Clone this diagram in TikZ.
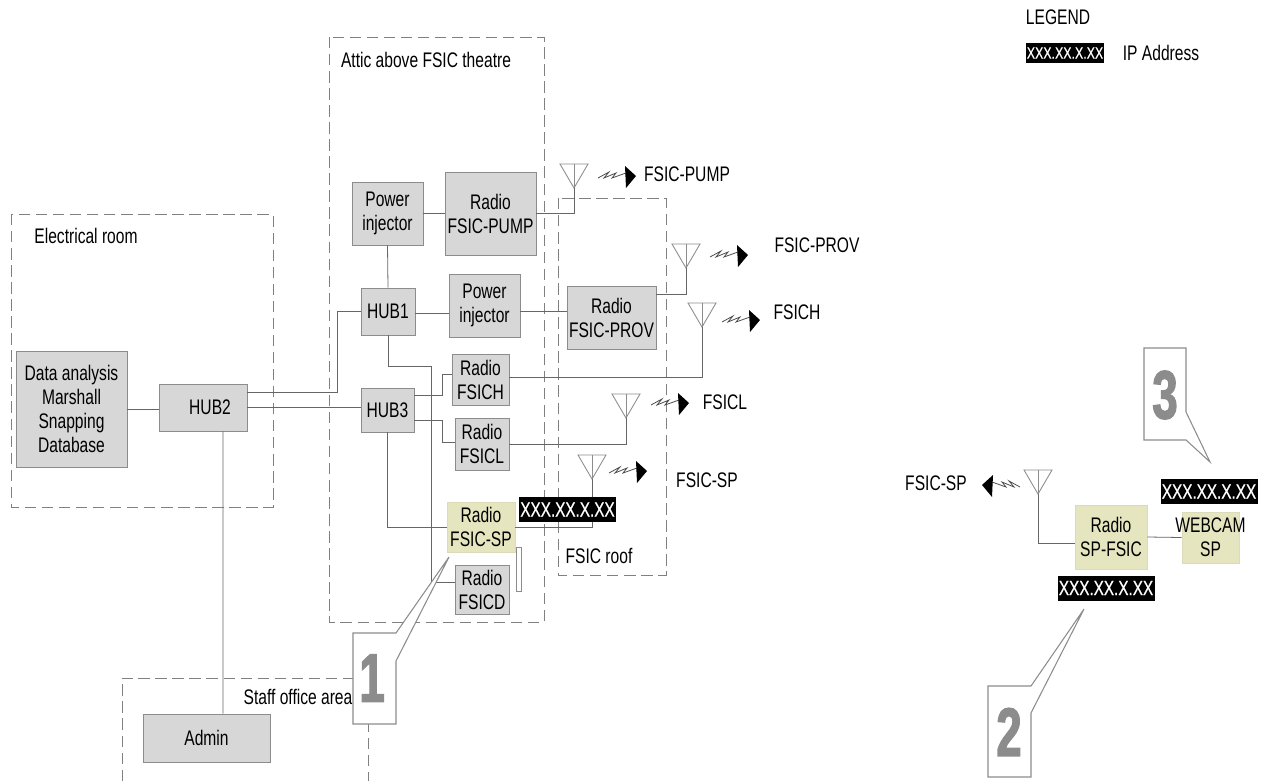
\documentclass[tikz,border=0pt]{standalone}
\usepackage{fontspec}
\setmainfont[FakeStretch=.74]{Liberation Sans}
\newfontfamily\ipfont[FakeStretch=.75,FakeBold=.5]{Liberation Sans}
\newfontfamily\numfont[FakeStretch=.66,BoldFeatures={FakeStretch=.66,FakeBold=2}]{Liberation Sans}
\definecolor{boxgray}{RGB}{215,215,215}
\definecolor{boxkhaki}{RGB}{229,229,192}
\definecolor{edgegray}{RGB}{140,140,140}
\tikzset{
	every node/.style={inner sep=0pt,align=center,font=\fontsize{12}{13.7}\selectfont},
	gbox/.style 2 args={draw=edgegray,fill=boxgray,line width=.55pt,minimum width=#1*.02cm,minimum height=#2*.02cm},
	ybox/.style 2 args={fill=boxkhaki,draw=boxkhaki!90!gray,line width=.5pt,minimum width=#1*.02cm,minimum height=#2*.02cm},
	iplabel/.style={fill=black,text=white,minimum width=97*.02cm,minimum height=25*.02cm,font=\ipfont\fontsize{11.6}{12}\selectfont},
	room/.style={gray,line width=.5pt,dash pattern=on 6.5pt off 3.2pt},
	wire/.style={black!60,line width=.45pt},
	callout/.style={draw=edgegray,fill=white,line width=.6pt},
	calloutnum/.style={text=black!45,font=\numfont\bfseries\fontsize{39}{39}\selectfont},
}
\begin{document}
\begin{tikzpicture}[x=.02cm,y=-.02cm]
	\useasboundingbox (0,0) rectangle (1264,781);

	\draw[room] (329,37) rectangle (544,622);%attic
	\draw[room] (558,198) rectangle (666,575);%roof
	\draw[room] (11,214) rectangle (273,507);%electrical room
	\draw[room] (122,781)--(122,678)--(368,678)--(368,781);%staff office

	\node (atticlabel) at (426,60) {Attic above FSIC theatre};
	\node (rooflabel) at (599,556) {FSIC roof};
	\node (elecalabel) at (86,236) {Electrical room};
	\node (stafflabel) at (298,697) {Staff office area};

	\node[gbox={111}{116}] (data) at (71.5,409) {Data analysis\\Marshall\\Snapping\\Database};
	\node[gbox={88}{47}] (hubtwo) at (203,407.5) {\hspace*{8pt}HUB2};
	\node[gbox={127}{48}] (admin) at (206.5,738) {Admin};
	\node[gbox={71}{63}] (pinja) at (387.5,213.5) {Power\\injector};
	\node[gbox={91}{83}] (radiopump) at (490.5,213.5) {Radio\\FSIC-PUMP};
	\node[gbox={54}{47}] (hubone) at (388,311.5) {HUB1};
	\node[gbox={71}{63}] (pinjb) at (484.5,305.5) {Power\\injector};
	\node[gbox={89}{63}] (radioprov) at (611.5,317.5) {Radio\\FSIC-PROV};
	\node[gbox={57}{51}] (radioh) at (480.5,379.5) {Radio\\FSICH};
	\node[gbox={53}{44}] (hubthree) at (387.5,410) {HUB3};
	\node[gbox={54}{52}] (radiol) at (482,444) {Radio\\FSICL};
	\node[ybox={68}{50}] (radiosp) at (481,527) {Radio\\FSIC-SP};
	\node[gbox={54}{49}] (radiod) at (482,589.5) {Radio\\FSICD};
	\node[draw=edgegray,fill=white,line width=.5pt,minimum width=5*.02cm,minimum height=44*.02cm] (slot) at (518.5,569) {};
	\node[ybox={72}{64}] (radiospr) at (1111,537) {Radio\\SP-FSIC};
	\node[ybox={57}{51}] (webcam) at (1210.5,537.5) {\makebox[0pt]{WEBCAM}\\SP};

	%antennes : nom, pointe, depart de l'eclair, sens
	\foreach \k/\x/\y/\zx/\zy/\m in {antpump/574/188/598/178/1,antprov/686/268/710/257/1,anth/702/327/722/322/1,antl/626/418/651/405/1,antsp/592/479/609/473/1,antspr/1038/494/1020/487/-1}{
		\coordinate (\k) at (\x,\y);
		\draw[edgegray,line width=.5pt] (\k)--++(-14,-24)--++(28,0)--cycle;
		\draw[edgegray,line width=.5pt] (\k)--++(0,-24);
		\draw[black!70,line width=.45pt] (\zx,\zy)--++(\m*11,-6)--++(\m*-5,6)--++(\m*12,-5)--++(\m*-4,5)--++(\m*14,-5);
		\fill[black] (\zx,\zy)++(\m*27,-12)--++(\m*11,10)--++(\m*-10,12)--cycle;
	}

	\draw[wire] (data.east)--(data.east -| hubtwo.west);
	\draw[wire] ([shift={(0,-15.5)}]hubtwo.east)--++(90,0) |- (hubone.west);
	\draw[wire] (hubtwo.east)--(hubtwo.east -| hubthree.west);
	\draw[wire] ([shift={(20,0)}]hubtwo.south)--([shift={(16.5,0)}]admin.north);
	\draw[wire] (pinja.east)--(radiopump.west);
	\draw[wire] (pinja.south)--(hubone.north);
	\draw[wire] ([shift={(0,1.5)}]hubone.east)--([shift={(0,1.5)}]hubone.east -| pinjb.west);
	\draw[wire] ([shift={(0,5.5)}]pinjb.east)--([shift={(0,5.5)}]pinjb.east -| radioprov.west);
	\coordinate (busa) at (431,366);
	\coordinate (busb) at (431,582);
	\draw[wire] (hubone.south) |- (busa)--(busb)--(busb -| radiod.west);
	\draw[wire] (hubthree.south) |- (radiosp.west);
	\draw[wire] ([shift={(0,-15)}]hubthree.east)--++(28,0) |- ([shift={(0,-5.5)}]radioh.west);
	\draw[wire] ([shift={(0,10)}]hubthree.east)--++(28,0) |- ([shift={(0,-2)}]radiol.west);
	\draw[wire] (radiopump.east) -| (antpump);
	\draw[wire] ([shift={(0,-23.5)}]radioprov.east) -| (antprov);
	\draw[wire] ([shift={(0,-2.5)}]radioh.east) -| (anth);
	\draw[wire] (radiol.east) -| (antl);
	\draw[wire] (radiosp.east) -| (antsp);
	\draw[wire] ([shift={(0,6)}]radiospr.west) -| (antspr);
	\draw[wire] (radiospr.east)--(webcam.west);

	\node (pumplabel) at (687,174) {FSIC-PUMP};
	\node (provlabel) at (817,245) {FSIC-PROV};
	\node (hlabel) at (797,312) {FSICH};
	\node (llabel) at (725,402) {FSICL};
	\node (splabel) at (707,480) {FSIC-SP};
	\node (sprlabel) at (936,483) {FSIC-SP};

	\node[iplabel] (ipsp) at (567.5,509.5) {XXX.XX.X.XX};
	\node[iplabel] (ipcam) at (1209,491.5) {XXX.XX.X.XX};
	\node[iplabel] (ipspr) at (1106,588) {XXX.XX.X.XX};

	\node (legend) at (1058,17) {LEGEND};
	\node[iplabel,minimum width=78*.02cm,minimum height=20*.02cm,font=\ipfont\fontsize{9.4}{10}\selectfont] (iplegend) at (1065,53) {XXX.XX.X.XX};
	\node (iptext) at (1161,53) {IP Address};

	%reperes
	\draw[callout] (353,633)--(396,633)--(449,557)--(396,661)--(396,724)--(353,724)--cycle;
	\node[calloutnum] (numa) at (372,678) {1};
	\draw[callout] (988,686)--(1031,686)--(1084,609)--(1031,713)--(1031,777)--(988,777)--cycle;
	\node[calloutnum] (numb) at (1009,732) {2};
	\draw[callout] (1144,348)--(1186,348)--(1186,412)--(1210,462)--(1186,440)--(1144,440)--cycle;
	\node[calloutnum] (numc) at (1165,395) {3};
\end{tikzpicture}
\end{document}
